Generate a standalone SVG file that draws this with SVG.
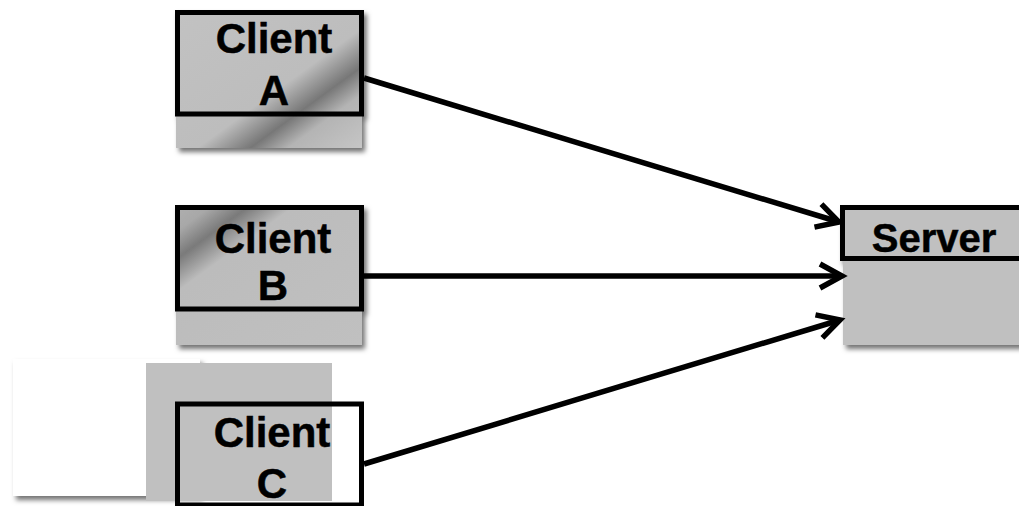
<svg xmlns="http://www.w3.org/2000/svg" width="1019" height="506" viewBox="0 0 1019 506">
  <defs>
    <style>
      .box { stroke: #000; stroke-width: 5; }
      .ext { fill: #c0c0c0; }
      .lbl { font-family: "Liberation Sans", Arial, sans-serif; font-weight: bold; font-size: 42px; fill: #000; stroke: #000; stroke-width: 0.5; text-anchor: middle; }
      .srv { font-size: 40px; }
      .wire { stroke: #000; stroke-width: 5.5; fill: none; marker-end: url(#vhead); }
    </style>
    <filter id="shade" x="-10%" y="-10%" width="130%" height="130%">
      <feDropShadow dx="3" dy="4" stdDeviation="2.5" flood-color="#000" flood-opacity="0.55"/>
    </filter>
    <!-- sheen for Client A: dark band near the lower right -->
    <linearGradient id="sheenA" gradientUnits="userSpaceOnUse" x1="175" y1="10" x2="306" y2="190">
      <stop offset="0" stop-color="#c2c2c2"/>
      <stop offset="0.56" stop-color="#bdbdbd"/>
      <stop offset="0.70" stop-color="#777"/>
      <stop offset="0.80" stop-color="#b4b4b4"/>
      <stop offset="1" stop-color="#c6c6c6"/>
    </linearGradient>
    <!-- sheen for Client B: dark band near the upper left -->
    <linearGradient id="sheenB" gradientUnits="userSpaceOnUse" x1="175" y1="205" x2="306" y2="385">
      <stop offset="0" stop-color="#b0b0b0"/>
      <stop offset="0.10" stop-color="#a8a8a8"/>
      <stop offset="0.20" stop-color="#7a7a7a"/>
      <stop offset="0.32" stop-color="#bcbcbc"/>
      <stop offset="1" stop-color="#c0c0c0"/>
    </linearGradient>
    <marker id="vhead" markerUnits="userSpaceOnUse" markerWidth="40" markerHeight="40" refX="0" refY="0" viewBox="-30 -20 40 40" orient="auto" overflow="visible">
      <path d="M-22,-12 L0,0 L-22,12" fill="none" stroke="#000" stroke-width="5.5" stroke-linejoin="miter"/>
    </marker>
  </defs>

  <rect width="1019" height="506" fill="#fff"/>

  <!-- Client A -->
  <g id="clientA">
    <g filter="url(#shade)">
      <rect x="176" y="114" width="186" height="34" fill="url(#sheenA)"/>
      <rect class="box" x="177.5" y="12.5" width="184" height="101.5" fill="url(#sheenA)"/>
    </g>
    <text class="lbl" x="274" y="53">Client</text>
    <text class="lbl" x="274" y="105">A</text>
  </g>

  <!-- Client B -->
  <g id="clientB">
    <g filter="url(#shade)">
      <rect x="176" y="309" width="186" height="36" fill="url(#sheenB)"/>
      <rect class="box" x="177.5" y="207.5" width="184" height="101.5" fill="url(#sheenB)"/>
    </g>
    <text class="lbl" x="273" y="253">Client</text>
    <text class="lbl" x="273" y="300">B</text>
  </g>

  <!-- Client C -->
  <g id="clientC">
    <rect x="13" y="359" width="187" height="137" fill="#fff" filter="url(#shade)"/>
    <rect x="146" y="363" width="186" height="138" fill="#c0c0c0"/>
    <rect class="box" x="177.5" y="404" width="184" height="101" fill="none"/>
    <text class="lbl" x="272" y="447">Client</text>
    <text class="lbl" x="272" y="498">C</text>
  </g>

  <!-- Server -->
  <g id="server">
    <g filter="url(#shade)">
      <rect class="ext" x="843" y="258" width="190" height="87"/>
      <rect class="box" x="842.5" y="207.5" width="190" height="51" fill="#c0c0c0"/>
    </g>
    <text class="lbl srv" x="934" y="252">Server</text>
  </g>

  <!-- connectors -->
  <g id="connectors">
    <line class="wire" x1="364" y1="78" x2="839" y2="222"/>
    <line class="wire" x1="364" y1="276" x2="842" y2="276"/>
    <line class="wire" x1="364" y1="464" x2="840" y2="320"/>
  </g>
</svg>
